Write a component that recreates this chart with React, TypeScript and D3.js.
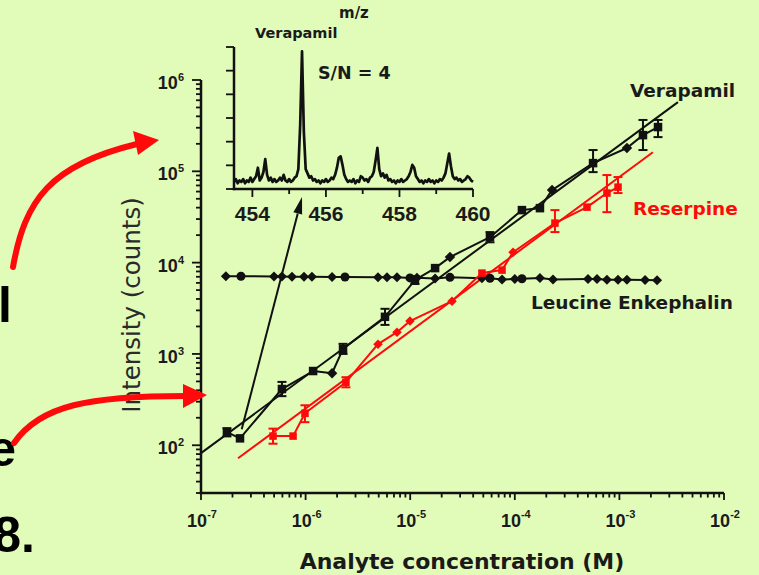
import React from 'react';
import * as d3 from 'd3';

const NUM_FONT = "'Liberation Sans', Arial, Helvetica, sans-serif";
const LAB_FONT = "'DejaVu Sans', 'Liberation Sans', sans-serif";
const BG = '#e1fbb9';
const RED = '#ff0a0a';
const INK = '#111111';

// ---- main axes ----
const xDecades = [-7, -6, -5, -4, -3, -2];
const yDecades = [2, 3, 4, 5, 6];
const xTitle = 'Analyte concentration (M)';
const yTitle = 'Intensity (counts)';

// ---- Verapamil ----
const verapamilConc = [1.77e-7, 2.36e-7, 5.94e-7, 1.18e-6, 1.79e-6, 2.28e-6, 5.74e-6, 1.11e-5, 1.73e-5, 2.4e-5, 5.79e-5, 1.17e-4, 1.74e-4, 2.27e-4, 5.6e-4, 1.18e-3, 1.68e-3, 2.34e-3];
const verapamilInt = [139, 119, 413, 650, 615, 1135, 2550, 6430, 8710, 11500, 19000, 37600, 39500, 62300, 123000, 180000, 249000, 305000];
const verapamilShape = ['s', 's', 's', 's', 'd', 's', 's', 's', 's', 'd', 's', 's', 's', 'd', 's', 'd', 's', 's'];
const verapamilErrLow = [125, 0, 345, 0, 0, 1000, 2080, 5830, 0, 0, 16700, 0, 0, 0, 98000, 0, 171000, 237000];
const verapamilErrHigh = [154, 0, 494, 0, 0, 1290, 3120, 7110, 0, 0, 21600, 0, 0, 0, 171000, 0, 365000, 365000];
const verapamilFitConc = [1e-7, 3.63e-3];
const verapamilFitInt = [82, 573000];

// ---- Reserpine ----
const reserpineConc = [4.88e-7, 7.59e-7, 9.86e-7, 2.43e-6, 4.92e-6, 7.48e-6, 9.95e-6, 2.51e-5, 4.85e-5, 7.55e-5, 9.62e-5, 2.42e-4, 4.9e-4, 7.6e-4, 9.7e-4];
const reserpineInt = [126, 126, 224, 490, 1280, 1730, 2290, 3780, 7680, 8280, 13000, 27100, 40500, 57800, 67100];
const reserpineShape = ['s', 's', 's', 's', 'd', 'd', 'd', 'd', 's', 's', 'd', 's', 's', 's', 's'];
const reserpineErrLow = [104, 0, 179, 431, 0, 0, 0, 0, 0, 0, 0, 21600, 0, 35700, 57800];
const reserpineErrHigh = [152, 0, 274, 556, 0, 0, 0, 0, 0, 0, 0, 37600, 0, 91000, 86500];
const reserpineFitConc = [2.26e-7, 2.09e-3];
const reserpineFitInt = [72, 161800];

// ---- Leucine Enkephalin ----
const leucineConc = [1.73e-7, 2.41e-7, 4.99e-7, 5.94e-7, 7.41e-7, 9.66e-7, 1.15e-6, 1.79e-6, 2.38e-6, 4.92e-6, 6.0e-6, 7.48e-6, 9.95e-6, 1.16e-5, 1.73e-5, 2.4e-5, 4.85e-5, 5.79e-5, 7.55e-5, 1.0e-4, 1.17e-4, 1.74e-4, 2.32e-4, 5.01e-4, 6.11e-4, 7.6e-4, 9.7e-4, 1.18e-3, 1.76e-3, 2.29e-3];
const leucineInt = [7100, 7100, 7050, 7050, 7000, 7000, 7000, 6950, 6950, 6900, 6900, 6900, 6800, 6850, 6700, 6900, 6750, 6750, 6550, 6600, 6650, 6800, 6550, 6600, 6600, 6500, 6500, 6500, 6450, 6400];
const leucineShape = ['d', 'c', 'd', 'd', 'd', 'd', 'd', 'd', 'c', 'd', 'd', 'd', 'c', 'd', 'd', 'c', 'd', 'c', 'd', 'd', 'c', 'd', 'd', 'd', 'd', 'd', 'd', 'd', 'd', 'd'];

// ---- inset spectrum ----
const insetTicks = [454, 456, 458, 460];
const insetMinor = [455, 457, 459];
const spectrumStart = 453.5;
const spectrumStep = 0.05;
const spectrumInt = [5, 7, 4, 6, 5, 7, 4, 6, 5, 8, 5, 7, 9, 15, 6, 8, 12, 21, 10, 6, 8, 5, 7, 5, 6, 8, 6, 10, 6, 5, 7, 5, 6, 8, 9, 14, 45, 97, 40, 14, 11, 8, 9, 6, 7, 5, 6, 4, 6, 5, 7, 5, 6, 8, 7, 10, 15, 22, 23, 17, 10, 7, 5, 6, 5, 7, 4, 6, 5, 9, 8, 6, 7, 5, 8, 9, 12, 20, 29, 14, 9, 11, 8, 10, 6, 7, 5, 6, 4, 6, 5, 7, 5, 6, 7, 9, 12, 17, 15, 9, 7, 5, 6, 4, 6, 5, 7, 5, 6, 4, 6, 5, 7, 6, 8, 11, 18, 25, 16, 9, 7, 8, 6, 7, 5, 6, 7, 9, 8, 6, 5];
const peakMz = 455.35;

const x = d3.scaleLog().domain([1e-7, 1e-2]).range([201, 724]);
const y = d3.scaleLog().domain([30, 1e6]).range([493, 80]);
const ix = d3.scaleLinear().domain([453.5, 460]).range([234, 473]);
const iy = d3.scaleLinear().domain([0, 100]).range([189, 47]);

function Marker({ shape, cx, cy, size, color }: { shape: string; cx: number; cy: number; size: number; color: string }) {
  if (shape === 's') return <rect x={cx - size / 2} y={cy - size / 2} width={size} height={size} fill={color} />;
  if (shape === 'c') return <circle cx={cx} cy={cy} r={size / 2 + 0.5} fill={color} />;
  const h = size / 2 + 1;
  return <polygon points={`${cx},${cy - h} ${cx + h},${cy} ${cx},${cy + h} ${cx - h},${cy}`} fill={color} />;
}

function Series({ conc, ints, shapes, lo, hi, color, size }: any) {
  const pts = conc.map((c: number, i: number) => [x(c), y(ints[i])] as [number, number]);
  const path = d3.line()(pts) || '';
  return (
    <g>
      <path d={path} fill="none" stroke={color} strokeWidth={2} strokeLinejoin="round" />
      {lo && conc.map((c: number, i: number) => lo[i] > 0 ? (
        <g key={'e' + i} stroke={color} strokeWidth={2}>
          <line x1={x(c)} x2={x(c)} y1={y(lo[i])} y2={y(hi[i])} />
          <line x1={x(c) - 4.5} x2={x(c) + 4.5} y1={y(lo[i])} y2={y(lo[i])} />
          <line x1={x(c) - 4.5} x2={x(c) + 4.5} y1={y(hi[i])} y2={y(hi[i])} />
        </g>
      ) : null)}
      {conc.map((c: number, i: number) => (
        <Marker key={i} shape={shapes[i]} cx={x(c)} cy={y(ints[i])} size={size} color={color} />
      ))}
    </g>
  );
}

function FitLine({ cs, is, color }: any) {
  return <line x1={x(cs[0])} y1={y(is[0])} x2={x(cs[1])} y2={y(is[1])} stroke={color} strokeWidth={2} />;
}

export default function App() {
  const xMinor: number[] = [];
  xDecades.slice(0, -1).forEach(k => { for (let m = 2; m <= 9; m++) xMinor.push(m * Math.pow(10, k)); });
  const yMinor: number[] = [];
  [1, 2, 3, 4, 5].forEach(k => { for (let m = 2; m <= 9; m++) { const v = m * Math.pow(10, k); if (v >= 30 && v < 1e6) yMinor.push(v); } });

  const specPts = spectrumInt.map((v, i) => [ix(spectrumStart + i * spectrumStep), iy(v)] as [number, number]);
  const specPath = d3.line()(specPts) || '';

  // annotation line from the lowest verapamil point to the inset peak
  const ax0 = x(2.45e-7), ay0 = y(150);
  const ax1 = ix(peakMz), ay1 = iy(0) + 8;
  const ang = Math.atan2(ay1 - ay0, ax1 - ax0);
  const ahL = 17, ahW = 4.5;
  const bx = ax1 - ahL * Math.cos(ang), by = ay1 - ahL * Math.sin(ang);
  const head = `${ax1},${ay1} ${bx + ahW * Math.sin(ang)},${by - ahW * Math.cos(ang)} ${bx - ahW * Math.sin(ang)},${by + ahW * Math.cos(ang)}`;

  return (
    <svg width={759} height={575} viewBox="0 0 759 575" style={{ position: 'absolute', left: 0, top: 0, display: 'block' }}>
      <rect x={0} y={0} width={759} height={575} fill={BG} />

      {/* cut-off slide text */}
      <g fontFamily={NUM_FONT} fontWeight="bold" fontSize={50} fill="#000" textAnchor="end">
        <text x={12} y={322}>l</text>
        <text x={16} y={466}>e</text>
        <text x={35} y={552}>8.</text>
      </g>

      {/* main axes */}
      <g stroke={INK} strokeWidth={2.5} fill="none">
        <line x1={201} x2={201} y1={y(1e6)} y2={y.range()[0] + 1.2} />
        <line x1={x.range()[0] - 1.2} x2={x.range()[1]} y1={493} y2={493} />
      </g>
      <g stroke={INK} strokeWidth={1.8}>
        {yDecades.map(k => <line key={'ym' + k} x1={192} x2={201} y1={y(Math.pow(10, k))} y2={y(Math.pow(10, k))} />)}
        {yMinor.map(v => <line key={'yn' + v} x1={196} x2={201} y1={y(v)} y2={y(v)} />)}
        {xDecades.map(k => <line key={'xm' + k} x1={x(Math.pow(10, k))} x2={x(Math.pow(10, k))} y1={493} y2={500} />)}
        {xMinor.map(v => <line key={'xn' + v} x1={x(v)} x2={x(v)} y1={493} y2={497.5} />)}
      </g>
      <g fontFamily={NUM_FONT} fontWeight="bold" fill="#1a1a1a">
        {yDecades.map(k => (
          <text key={'yl' + k} x={184} y={y(Math.pow(10, k)) + 9} fontSize={18} textAnchor="end">
            10<tspan fontSize={11} dy={-8}>{k}</tspan>
          </text>
        ))}
        {xDecades.map(k => (
          <text key={'xl' + k} x={x(Math.pow(10, k)) + 1} y={527} fontSize={18} textAnchor="middle">
            10<tspan fontSize={11} dy={-9}>{k}</tspan>
          </text>
        ))}
      </g>
      <text x={462} y={569} fontFamily={LAB_FONT} fontWeight="bold" fontSize={22} textAnchor="middle" fill="#1a1a1a">{xTitle}</text>
      <text transform="translate(140,305) rotate(-90)" fontFamily={LAB_FONT} fontSize={24.5} textAnchor="middle" fill="#2a2a2a">{yTitle}</text>

      {/* fits */}
      <FitLine cs={verapamilFitConc} is={verapamilFitInt} color={INK} />
      <FitLine cs={reserpineFitConc} is={reserpineFitInt} color={RED} />

      {/* series */}
      <Series conc={leucineConc} ints={leucineInt} shapes={leucineShape} color={INK} size={8} />
      <Series conc={reserpineConc} ints={reserpineInt} shapes={reserpineShape} lo={reserpineErrLow} hi={reserpineErrHigh} color={RED} size={7.5} />
      <Series conc={verapamilConc} ints={verapamilInt} shapes={verapamilShape} lo={verapamilErrLow} hi={verapamilErrHigh} color={INK} size={8.5} />

      {/* series labels */}
      <g fontFamily={LAB_FONT} fontWeight="bold" fontSize={18.5}>
        <text x={630} y={97} fill="#1a1a1a">Verapamil</text>
        <text x={633} y={215} fill={RED}>Reserpine</text>
        <text x={531} y={309} fill="#1a1a1a">Leucine Enkephalin</text>
      </g>

      {/* inset */}
      <path d={specPath} fill="none" stroke={INK} strokeWidth={2.7} strokeLinejoin="round" />
      <g stroke={INK} strokeWidth={2.5} fill="none">
        <line x1={234} x2={234} y1={iy(100)} y2={iy(0) + 1.2} />
        <line x1={232.8} x2={ix(460)} y1={iy(0)} y2={iy(0)} />
      </g>
      <g stroke={INK} strokeWidth={1.8}>
        {d3.range(7).map(i => <line key={'it' + i} x1={226} x2={234} y1={iy(i * 100 / 6)} y2={iy(i * 100 / 6)} />)}
        {insetTicks.map(t => <line key={'ixt' + t} x1={ix(t)} x2={ix(t)} y1={iy(0)} y2={iy(0) + 8} />)}
        {insetMinor.map(t => <line key={'ixm' + t} x1={ix(t)} x2={ix(t)} y1={iy(0)} y2={iy(0) + 5} />)}
      </g>
      <g fontFamily={NUM_FONT} fontWeight="bold" fontSize={21} fill="#1a1a1a" textAnchor="middle">
        {insetTicks.map(t => <text key={'itl' + t} x={ix(t)} y={221}>{t}</text>)}
      </g>
      <g fontFamily={LAB_FONT} fontWeight="bold" fill="#1a1a1a">
        <text x={255} y={38} fontSize={14.5}>Verapamil</text>
        <text x={339} y={18} fontSize={15}>m/z</text>
        <text x={318} y={79} fontSize={17.5}>S/N = 4</text>
      </g>

      {/* annotation line to inset */}
      <line x1={ax0} y1={ay0} x2={bx} y2={by} stroke={INK} strokeWidth={2} />
      <polygon points={head} fill={INK} />

      {/* red arrows */}
      <g stroke={RED} strokeWidth={6} fill="none" strokeLinecap="round">
        <path d="M13,267 C25,200 50,165 137,144" />
        <path d="M14,443 C40,405 90,396 186,396" />
      </g>
      <g fill={RED}>
        <polygon points="159,140 133,131 138,155" />
        <polygon points="207,395 183,384 183,408" />
      </g>
    </svg>
  );
}
